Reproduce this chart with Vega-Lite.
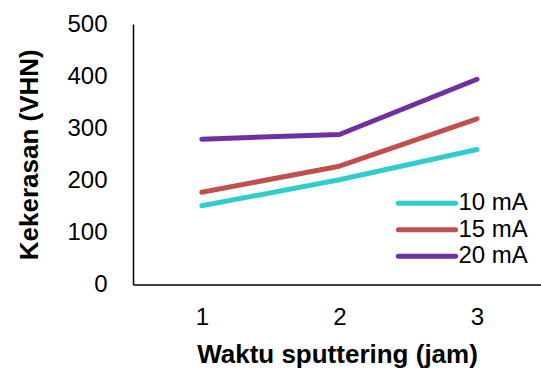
{
  "$schema": "https://vega.github.io/schema/vega-lite/v6.json",
  "width": 408,
  "height": 260.5,
  "autosize": "none",
  "padding": {"left": 133, "top": 24, "right": 0, "bottom": 84.5},
  "config": {"font": "Liberation Sans", "view": {"stroke": null}},
  "data": {
    "values": [
      {"jam": 1, "vhn": 151, "arus": "10 mA"},
      {"jam": 2, "vhn": 201, "arus": "10 mA"},
      {"jam": 3, "vhn": 259, "arus": "10 mA"},
      {"jam": 1, "vhn": 177, "arus": "15 mA"},
      {"jam": 2, "vhn": 227, "arus": "15 mA"},
      {"jam": 3, "vhn": 318, "arus": "15 mA"},
      {"jam": 1, "vhn": 279, "arus": "20 mA"},
      {"jam": 2, "vhn": 288, "arus": "20 mA"},
      {"jam": 3, "vhn": 394, "arus": "20 mA"}
    ]
  },
  "mark": {"type": "line", "strokeWidth": 5, "strokeCap": "round", "strokeJoin": "round"},
  "encoding": {
    "x": {
      "field": "jam",
      "type": "quantitative",
      "scale": {"domain": [0.5, 3.465], "nice": false, "zero": false},
      "axis": {
        "values": [1, 2, 3],
        "format": "d",
        "title": "Waktu sputtering (jam)",
        "grid": false,
        "ticks": false,
        "domainColor": "#000",
        "domainWidth": 1.5,
        "labelFontSize": 24,
        "labelColor": "#000",
        "labelPadding": 21,
        "titleFontSize": 26,
        "titleFontWeight": "bold",
        "titleColor": "#000",
        "titlePadding": 12
      }
    },
    "y": {
      "field": "vhn",
      "type": "quantitative",
      "scale": {"domain": [0, 500], "nice": false},
      "axis": {
        "values": [0, 100, 200, 300, 400, 500],
        "title": "Kekerasan (VHN)",
        "grid": false,
        "ticks": false,
        "domainColor": "#000",
        "domainWidth": 1.5,
        "labelFontSize": 24,
        "labelColor": "#000",
        "labelPadding": 26,
        "titleFontSize": 26,
        "titleFontWeight": "bold",
        "titleColor": "#000",
        "titlePadding": 24
      }
    },
    "color": {
      "field": "arus",
      "type": "nominal",
      "scale": {"domain": ["10 mA", "15 mA", "20 mA"], "range": ["#33CCCC", "#C0504D", "#7030A0"]},
      "legend": {
        "orient": "none",
        "legendX": 282,
        "legendY": 167.2,
        "title": null,
        "symbolType": "M-4.4,0H4.4",
        "symbolSize": 169,
        "symbolStrokeWidth": 5,
        "symbolOffset": 0,
        "labelFontSize": 24,
        "labelColor": "#000",
        "labelOffset": 19.5,
        "rowPadding": 2.5,
        "padding": 0,
        "encode": {"symbols": {"update": {"strokeCap": {"value": "round"}}}}
      }
    }
  }
}
